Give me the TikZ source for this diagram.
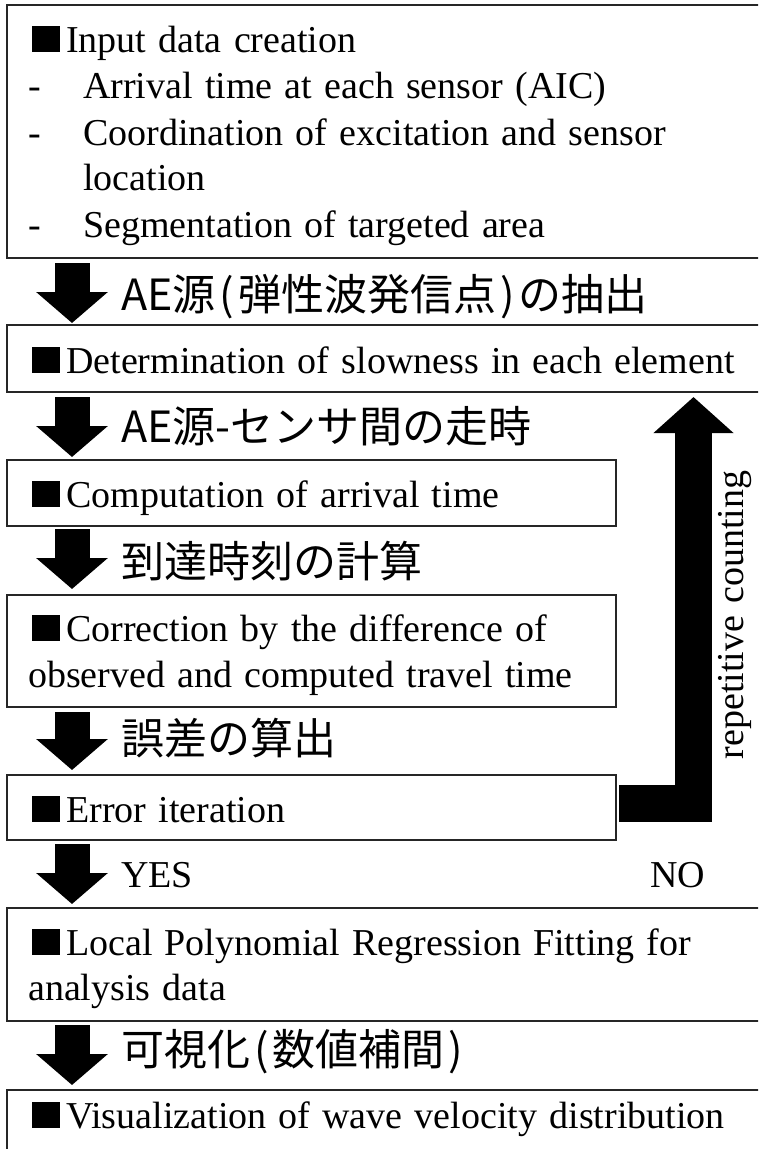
\documentclass[tikz,border=0pt]{standalone}
\usepackage{fontspec}
\setmainfont[WordSpace=1.28]{Liberation Serif}
\newfontfamily\jpfont{Noto Sans CJK JP}
\usetikzlibrary{arrows.meta}

\newcommand{\blk}{\rule{28pt}{26pt}\hspace{6pt}}
\newcommand{\dashitem}[1]{\makebox[55pt][l]{-}#1}
\newcommand{\jpopen}{\hspace{4pt}(\hspace{4pt}}
\newcommand{\jpclose}{\hspace{4pt})\hspace{4pt}}

\tikzset{
    procbox/.style={draw=black!85, line width=1.6pt, anchor=north west, inner sep=0pt, outer sep=0pt},
    entxt/.style={anchor=base west, inner sep=0pt, font=\fontsize{38}{42}\selectfont},
    jptxt/.style={anchor=base west, inner sep=0pt, font=\jpfont\fontsize{43}{48}\selectfont},
    downarrow/.style={line width=35pt, -{Triangle[width=70pt,length=31pt]}},
    looparrow/.style={line width=37pt, -{Triangle[width=78pt,length=36pt]}},
}

\begin{document}
\begin{tikzpicture}[x=1pt, y=-1pt]

    \useasboundingbox (0,0) rectangle (758,1149);
    \clip (0,0) rectangle (758,1149);

    % boxes
    \node[procbox, minimum width=763pt, minimum height=253pt] (input) at (7,5) {};
    \node[procbox, minimum width=763pt, minimum height=67pt] (slow) at (7,325) {};
    \node[procbox, minimum width=609pt, minimum height=66pt] (comp) at (7,460) {};
    \node[procbox, minimum width=609pt, minimum height=112pt] (corr) at (7,595) {};
    \node[procbox, minimum width=609pt, minimum height=65pt] (error) at (7,775) {};
    \node[procbox, minimum width=763pt, minimum height=113pt] (fit) at (7,908) {};
    \node[procbox, minimum width=763pt, minimum height=90pt] (visual) at (7,1090) {};

    \node[entxt] (inputhead) at (32,52) {\blk Input data creation};
    \node[entxt] (aic) at (28,98) {\dashitem{Arrival time at each sensor (AIC)}};
    \node[entxt] (coord) at (28,145) {\dashitem{Coordination of excitation and sensor}};
    \node[entxt] (coordb) at (83,190) {location};
    \node[entxt] (segm) at (28,237) {\dashitem{Segmentation of targeted area}};

    \node[entxt] (slowtxt) at (32,373) {\blk Determination of slowness in each element};
    \node[entxt] (comptxt) at (32,507) {\blk Computation of arrival time};
    \node[entxt] (corrtxt) at (32,641) {\blk Correction by the difference of};
    \node[entxt] (corrtxtb) at (28,687) {observed and computed travel time};
    \node[entxt] (errortxt) at (32,822) {\blk Error iteration};
    \node[entxt] (fittxt) at (32,955) {\blk Local Polynomial Regression Fitting for};
    \node[entxt] (fittxtb) at (28,1000) {analysis data};
    \node[entxt] (visualtxt) at (32,1128) {\blk Visualization of wave velocity distribution};

    \begin{scope}[draw=black]
        \draw[downarrow] ([xshift=65pt,yshift=-5pt]input.south west) -- ([xshift=65pt,yshift=2pt]slow.north west);
        \draw[downarrow] ([xshift=65pt,yshift=-5pt]slow.south west) -- ([xshift=65pt,yshift=3pt]comp.north west);
        \draw[downarrow] ([xshift=65pt,yshift=-3pt]comp.south west) -- ([xshift=65pt,yshift=6pt]corr.north west);
        \draw[downarrow] ([xshift=65pt,yshift=-5pt]corr.south west) -- ([xshift=65pt,yshift=5pt]error.north west);
        \draw[downarrow] ([xshift=65pt,yshift=-4pt]error.south west) -- ([xshift=65pt,yshift=4pt]fit.north west);
        \draw[downarrow] ([xshift=65pt,yshift=-4pt]fit.south west) -- ([xshift=65pt,yshift=5pt]visual.north west);

        \draw[looparrow] ([xshift=3pt,yshift=4pt]error.east) -| ([xshift=686.5pt,yshift=-5pt]slow.south west);
    \end{scope}

    \node[jptxt] (extract) at (121,310) {AE源\jpopen 弾性波発信点\jpclose の抽出};
    \node[jptxt] (travel) at (121,442) {AE源-センサ間の走時};
    \node[jptxt] (arrive) at (121,577) {到達時刻の計算};
    \node[jptxt] (misfit) at (121,754) {誤差の算出};
    \node[entxt] (yes) at (121,887) {YES};
    \node[entxt] (no) at (650,887) {NO};
    \node[jptxt] (interp) at (121,1065) {可視化\jpopen 数値補間\jpclose};

    \node[entxt, rotate=90, anchor=base] (repeat) at (743,615) {repetitive counting};

\end{tikzpicture}
\end{document}
